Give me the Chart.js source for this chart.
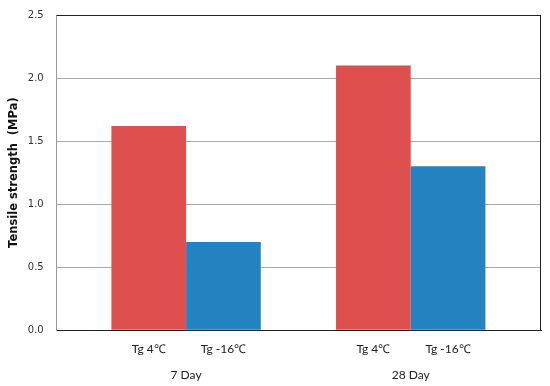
<!DOCTYPE html>
<html>
<head>
<meta charset="utf-8">
<script src="https://cdn.jsdelivr.net/npm/chart.js@4"></script>
<style>
html,body{margin:0;padding:0;background:#fff;}
#wrap{width:550px;height:386px;}
</style>
</head>
<body>
<div id="wrap"><canvas id="c" width="550" height="386"></canvas></div>
<script>
/* ================= DATA ================= */
const groups=["7 Day","28 Day"];
const groupPos=[1,2];
const seriesNames=["Tg 4℃","Tg -16℃"];
const tg4=[1.62,2.10];
const tg16=[0.70,1.30];
const yTicks=[0,0.5,1.0,1.5,2.0,2.5];

/* ================= LAYOUT ================= */
const barFrac=0.665;          // share of group spacing taken by the two bars
const half=barFrac/4;         // bar centre offset from group centre

const seriesTicks=[];
groupPos.forEach(g=>{ seriesTicks.push(g-half); seriesTicks.push(g+half); });

/* frame round the plot area */
const frame={
id:"frame",
afterDraw(ch){
const a=ch.chartArea, x=ch.ctx;
x.save();
x.lineWidth=1;
x.strokeStyle="#222";
x.beginPath();
x.moveTo(a.left,a.top+0.5);x.lineTo(a.right,a.top+0.5);
x.moveTo(a.right-0.5,a.top);x.lineTo(a.right-0.5,a.bottom);
x.stroke();
x.restore();
}
};

const xMin=0.424, xMax=2.58;

new Chart(document.getElementById("c"),{
type:"bar",
data:{
datasets:[
{label:seriesNames[0],data:groupPos.map((p,i)=>({x:p,y:tg4[i]})),backgroundColor:"#DE504E",categoryPercentage:barFrac,barPercentage:1,xAxisID:"x"},
{label:seriesNames[1],data:groupPos.map((p,i)=>({x:p,y:tg16[i]})),backgroundColor:"#2482C1",categoryPercentage:barFrac,barPercentage:1,xAxisID:"x"}
]
},
options:{
responsive:false,
animation:false,
layout:{padding:{top:0,right:9,left:7,bottom:4}},
plugins:{legend:{display:false},tooltip:{enabled:false}},
scales:{
x2:{
type:"linear",position:"bottom",min:xMin,max:xMax,weight:1,offset:false,
grid:{display:false,drawTicks:false},
border:{display:true,color:"#222",width:1},
afterBuildTicks:s=>{ s.ticks=seriesTicks.map(v=>({value:v})); },
ticks:{padding:11.5,color:"#222",font:{family:"Lato",size:12},
callback:(v,i)=>seriesNames[i%2],maxRotation:0,autoSkip:false}
},
x:{
type:"linear",position:"bottom",min:xMin,max:xMax,weight:2,offset:false,
grid:{display:false,drawTicks:false},
border:{display:false},
afterBuildTicks:s=>{ s.ticks=groupPos.map(v=>({value:v})); },
ticks:{padding:0,color:"#222",font:{family:"Lato",size:12},
callback:(v,i)=>groups[i],maxRotation:0,autoSkip:false}
},
y:{
min:0,max:2.5,
afterBuildTicks:s=>{ s.ticks=yTicks.map(v=>({value:v})); },
grid:{color:"#aaa",lineWidth:1,drawTicks:false},
border:{display:true,color:"#999"},
ticks:{padding:13,color:"#333",font:{family:"DejaVu Sans",size:10,lineHeight:0.4},callback:v=>v.toFixed(1)},
title:{display:true,text:"Tensile strength  (MPa)",color:"#111",
font:{family:"DejaVu Sans",size:11.5,weight:"bold"},padding:{top:0,bottom:-6}}
}
}
},
plugins:[frame]
});
</script>
</body>
</html>
